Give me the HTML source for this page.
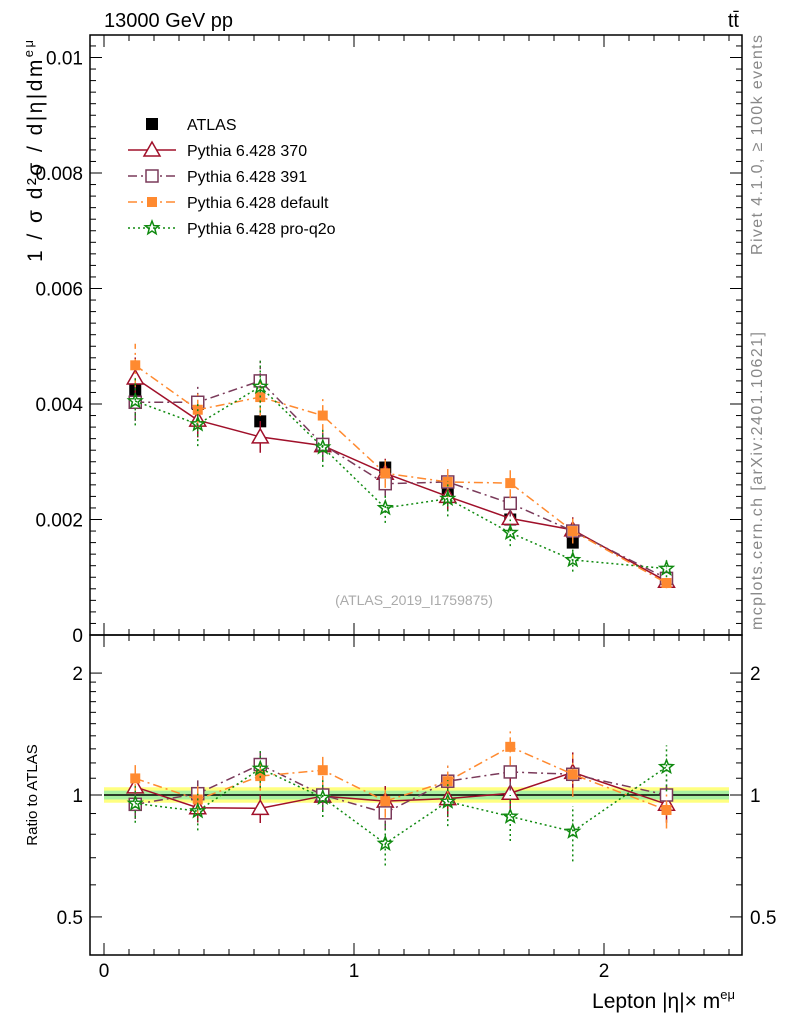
<!DOCTYPE html>
<html><head><meta charset="utf-8"><style>
body{margin:0;background:#fff;}
svg text{font-family:"Liberation Sans",sans-serif;}
</style></head><body>
<svg id="c" width="786" height="1024" xmlns="http://www.w3.org/2000/svg">
<rect width="786" height="1024" fill="#fff"/>
<text x="104" y="27" font-size="20">13000 GeV pp</text>
<text x="739" y="27" font-size="20" text-anchor="end">tt̄</text>
<text transform="translate(762,255) rotate(-90)" font-size="16" fill="#888" textLength="220" lengthAdjust="spacing">Rivet 4.1.0, ≥ 100k events</text>
<text transform="translate(762,630) rotate(-90)" font-size="16" fill="#888" textLength="298" lengthAdjust="spacing">mcplots.cern.ch [arXiv:2401.10621]</text>
<text transform="translate(42,262) rotate(-90)" font-size="21" textLength="222" lengthAdjust="spacing">1 / σ d²σ / d|η|dm<tspan dy="-9" font-size="13">eμ</tspan></text>
<text transform="translate(37,795) rotate(-90)" font-size="15" text-anchor="middle">Ratio to ATLAS</text>
<text x="735" y="1008" font-size="21" text-anchor="end">Lepton |η|× m<tspan dy="-9" font-size="13">eμ</tspan></text>
<text x="414" y="605" font-size="14" fill="#aaa" text-anchor="middle">(ATLAS_2019_I1759875)</text>
<g id="g"></g>
</svg>
<script>
const xCenters=[0.125,0.375,0.625,0.875,1.125,1.375,1.625,1.875,2.25];
const atlas=[0.00425,0.0040,0.0037,0.0033,0.0029,0.00245,0.0020,0.0016,0.00098];
const atlasErr=[0.00015,0.00012,0.0001,0.0001,0.0001,0.00008,0.00007,0.00006,0.00004];
const p370=[0.00445,0.00372,0.00343,0.00328,0.0028,0.0024,0.00202,0.00182,0.00093];
const p391=[0.00403,0.00403,0.0044,0.0033,0.00262,0.00265,0.00228,0.0018,0.00098];
const pdef=[0.00467,0.0039,0.00412,0.0038,0.0028,0.00265,0.00263,0.0018,0.0009];
const pq2o=[0.00405,0.00365,0.0043,0.00325,0.0022,0.00236,0.00177,0.0013,0.00115];
const relErr=[0.08,0.08,0.08,0.08,0.09,0.1,0.1,0.12,0.1];
const yTicks=[0,0.002,0.004,0.006,0.008,0.01];
const yTickLabels=["0","0.002","0.004","0.006","0.008","0.01"];
const rTicks=[0.5,1,2];
const xTicks=[0,1,2];
const NS="http://www.w3.org/2000/svg";
const g=document.getElementById('g');
const L=90,R=742,T=35,MB=635,RB=955;
const sx=v=>104+v*250;
const sy=v=>635-v*57750;
const sr=v=>795-Math.log10(v)*405;
function el(t,a,p){const e=document.createElementNS(NS,t);for(const k in a)e.setAttribute(k,a[k]);(p||g).appendChild(e);return e;}
let b1=el('rect',{x:sx(0),y:sr(1.045),width:sx(2.5)-sx(0),height:sr(0.957)-sr(1.045),fill:'#ffff80'});

let b2=el('rect',{x:sx(0),y:sr(1.025),width:sx(2.5)-sx(0),height:sr(0.975)-sr(1.025),fill:'#a8f0a0'});

el('line',{x1:sx(0),x2:sx(2.5),y1:sr(1),y2:sr(1),stroke:'#000','stroke-width':1.5});
let f1=el('rect',{x:L,y:T,width:R-L,height:MB-T,fill:'none',stroke:'#000','stroke-width':1.5});

let f2=el('rect',{x:L,y:MB,width:R-L,height:RB-MB,fill:'none',stroke:'#000','stroke-width':1.5});

for(let i=0;i<=25;i++){const v=i/10,x=sx(v);if(x>R)break;const maj=i%10==0,len=maj?12:6;
 [[T,1],[MB,-1],[MB,1],[RB,-1]].forEach(([y,d])=>el('line',{x1:x,x2:x,y1:y,y2:y+d*len,stroke:'#000'}));}
xTicks.forEach(v=>{const t=el('text',{x:sx(v),y:977,'font-size':19,'text-anchor':'middle'});t.textContent=v;
 });
for(let i=0;i<=52;i++){const v=i*0.0002,y=sy(v);if(y<T)break;const maj=i%10==0,len=maj?12:6;
 el('line',{x1:L,x2:L+len,y1:y,y2:y,stroke:'#000'});el('line',{x1:R,x2:R-len,y1:y,y2:y,stroke:'#000'});}
yTicks.forEach((v,i)=>{const t=el('text',{x:83,y:sy(v)+7,'font-size':19,'text-anchor':'end'});t.textContent=yTickLabels[i];
 });
[0.4,0.5,0.6,0.7,0.8,0.9,1,2].forEach(v=>{const y=sr(v);if(y>RB||y<MB)return;const maj=rTicks.includes(v),len=maj?12:6;
 el('line',{x1:L,x2:L+len,y1:y,y2:y,stroke:'#000'});el('line',{x1:R,x2:R-len,y1:y,y2:y,stroke:'#000'});});
for(let v=1.1;v<2;v+=0.1){const y=sr(v);el('line',{x1:L,x2:L+6,y1:y,y2:y,stroke:'#000'});el('line',{x1:R,x2:R-6,y1:y,y2:y,stroke:'#000'});}
rTicks.forEach(v=>{[83,750].forEach((x,k)=>{const t=el('text',{x:x,y:sr(v)+7,'font-size':19,'text-anchor':k?'start':'end'});t.textContent=v;
 });});
const series=[
 {name:'p370',d:p370,c:'#a0102a',dash:'',m:'tri',lab:'Pythia 6.428 370'},
 {name:'p391',d:p391,c:'#7a3a5a',dash:'9,4,2,4',m:'sq',lab:'Pythia 6.428 391'},
 {name:'pdef',d:pdef,c:'#ff8a30',dash:'9,4,2,4',m:'fsq',lab:'Pythia 6.428 default'},
 {name:'pq2o',d:pq2o,c:'#108a10',dash:'2,3',m:'star',lab:'Pythia 6.428 pro-q2o'}];
function marker(m,x,y,c,p){
 if(m=='tri')return el('polygon',{points:`${x},${y-8} ${x-8},${y+6} ${x+8},${y+6}`,fill:'#fff',stroke:c,'stroke-width':1.5},p);
 if(m=='sq')return el('rect',{x:x-6,y:y-6,width:12,height:12,fill:'#fff',stroke:c,'stroke-width':1.5},p);
 if(m=='fsq')return el('rect',{x:x-5,y:y-5,width:10,height:10,fill:c},p);
 if(m=='blk')return el('rect',{x:x-6,y:y-6,width:12,height:12,fill:'#000'},p);
 let pts=[];for(let i=0;i<10;i++){const r=i%2?3:7,a=-Math.PI/2+i*Math.PI/5;pts.push((x+r*Math.cos(a)).toFixed(1)+','+(y+r*Math.sin(a)).toFixed(1));}
 return el('polygon',{points:pts.join(' '),fill:'none',stroke:c,'stroke-width':1.5},p);}
const ga=el('g',{});
atlas.forEach((v,i)=>{const x=sx(xCenters[i]);el('line',{x1:x,x2:x,y1:sy(v-atlasErr[i]),y2:sy(v+atlasErr[i]),stroke:'#000'},ga);
 const mk=marker('blk',x,sy(v),'#000',ga);});
series.forEach(s=>{
 const gs=el('g',{});
 const ds={stroke:s.c,'stroke-width':1.5,fill:'none'};if(s.dash)ds['stroke-dasharray']=s.dash;
 el('polyline',Object.assign({points:s.d.map((v,i)=>sx(xCenters[i])+','+sy(v)).join(' ')},ds),gs);
 el('polyline',Object.assign({points:s.d.map((v,i)=>sx(xCenters[i])+','+sr(v/atlas[i])).join(' ')},ds),gs);
 s.d.forEach((v,i)=>{const x=sx(xCenters[i]),e=relErr[i]*(s.name=='pq2o'?1.3:1),r=v/atlas[i];
  el('line',{x1:x,x2:x,y1:sy(v*(1-e)),y2:sy(v*(1+e)),stroke:s.c,'stroke-width':1.5,'stroke-dasharray':s.dash||''},gs);
  el('line',{x1:x,x2:x,y1:sr(r*(1-e)),y2:sr(r*(1+e)),stroke:s.c,'stroke-width':1.5,'stroke-dasharray':s.dash||''},gs);
  const m1=marker(s.m,x,sy(v),s.c,gs);
  const m2=marker(s.m,x,sr(r),s.c,gs);});
});
const lg=el('g',{});
const le0=el('g',{},lg);
marker('blk',152,124,'#000',le0);let t0=el('text',{x:187,y:130,'font-size':16},le0);t0.textContent='ATLAS';
series.forEach((s,k)=>{const y=150+26*k;const le=el('g',{},lg);
 const ds={x1:128,x2:176,y1:y,y2:y,stroke:s.c,'stroke-width':1.5};if(s.dash)ds['stroke-dasharray']=s.dash;el('line',ds,le);
 marker(s.m,152,y,s.c,le);const t=el('text',{x:187,y:y+6,'font-size':16},le);t.textContent=s.lab;});
</script>
</body></html>
